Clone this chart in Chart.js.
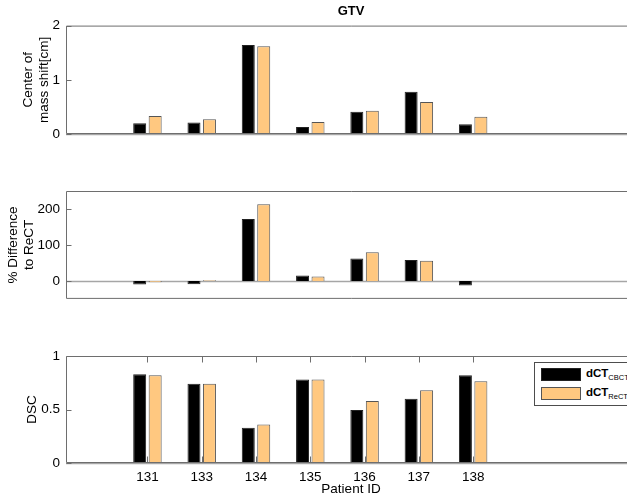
<!DOCTYPE html>
<html>
<head>
<meta charset="utf-8">
<script src="https://cdn.jsdelivr.net/npm/chart.js@4.4.1/dist/chart.umd.min.js"></script>
<style>
  body { margin: 0; background: #fff; }
  #wrap { position: relative; width: 627px; height: 497px; overflow: hidden; background: #fff; }
  canvas { position: absolute; left: 0; }
  #legend {
    position: absolute; left: 534px; top: 362px; width: 110px; height: 42px;
    border: 1px solid #4d4d4d; background: #fff; font-family: "Liberation Sans", Arial, sans-serif;
  }
  .item { position: absolute; left: 6px; height: 14px; }
  .swatch { position: absolute; left: 0; top: 0; width: 40px; height: 13px; border: 1px solid #555; box-sizing: border-box; }
  .lbl { position: absolute; left: 45px; top: -1px; font-size: 11.5px; font-weight: bold; white-space: nowrap; color: #000; }
  .lbl sub { font-size: 7.5px; font-weight: normal; vertical-align: -3px; }
</style>
</head>
<body>
<div id="wrap">
  <canvas id="shiftChart" width="636" height="150" style="top:0px"></canvas>
  <canvas id="diffChart" width="636" height="143" style="top:170px"></canvas>
  <canvas id="dscChart" width="636" height="162" style="top:335px"></canvas>
  <div id="legend"></div>
</div>
<script>
// --- Data ---
const patientIds = ['131', '133', '134', '135', '136', '137', '138'];
const xPositions = [1, 2, 3, 4, 5, 6, 7];

const seriesNames = ['dCT', 'dCT'];
const seriesSubs = ['CBCT', 'ReCT'];
const seriesColors = ['#000000', '#FFC880'];
const seriesBorders = ['#222222', '#555555'];

const shiftCBCT = [0.20, 0.21, 1.64, 0.13, 0.41, 0.78, 0.18];
const shiftReCT = [0.33, 0.27, 1.62, 0.22, 0.43, 0.59, 0.32];
const shiftTicks = [0, 1, 2];

const diffCBCT = [-10, -9, 172, 15, 62, 58, -13];
const diffReCT = [-4, 2, 213, 12, 80, 56, 0];
const diffTicks = [0, 100, 200];

const dscCBCT = [0.83, 0.74, 0.33, 0.78, 0.495, 0.60, 0.82];
const dscReCT = [0.82, 0.74, 0.36, 0.78, 0.58, 0.68, 0.765];
const dscTicks = [0, 0.5, 1];

const FONT = '"Liberation Sans", Arial, sans-serif';
const frameColor = '#6e6e6e';

// frame, inward ticks and bar baseline like the original figure
const framePlugin = {
    id: 'frame',
    beforeDatasetsDraw(chart) {
        const { ctx, chartArea: a, scales: { y } } = chart;
        const y0 = Math.round(y.getPixelForValue(0)) + 0.5;
        ctx.save();
        ctx.strokeStyle = '#a6a6a6';
        ctx.lineWidth = 1.5;
        ctx.beginPath();
        ctx.moveTo(a.left, y0);
        ctx.lineTo(a.right, y0);
        ctx.stroke();
        ctx.restore();
    },
    afterDatasetsDraw(chart, args, opts) {
        const { ctx, chartArea: a, scales: { x, y } } = chart;
        const l = a.left + 0.5, t = a.top + 0.5, b = a.bottom - 0.5;
        ctx.save();
        ctx.strokeStyle = frameColor;
        ctx.lineWidth = 1;
        ctx.beginPath();
        ctx.moveTo(a.right, t); ctx.lineTo(l, t); ctx.lineTo(l, b); ctx.lineTo(a.right, b);
        y.ticks.forEach(tk => {
            const py = Math.round(y.getPixelForValue(tk.value)) + 0.5;
            ctx.moveTo(l, py); ctx.lineTo(l + 5, py);
        });
        if (opts.xTicks) {
            x.ticks.forEach(tk => {
                const px = Math.round(x.getPixelForValue(tk.value)) + 0.5;
                ctx.moveTo(px, t); ctx.lineTo(px, t + 6);
                ctx.moveTo(px, b); ctx.lineTo(px, b - 6);
            });
        }
        ctx.stroke();
        ctx.restore();
    }
};

const makeDatasets = (a, b) => [a, b].map((vals, i) => ({
    label: seriesNames[i] + seriesSubs[i],
    data: xPositions.map((x, j) => ({ x, y: vals[j] })),
    backgroundColor: seriesColors[i],
    borderColor: seriesBorders[i],
    borderWidth: 1,
    categoryPercentage: 0.57,
    barPercentage: 0.84
}));

const makeChart = (id, cfg) => new Chart(document.getElementById(id), {
    type: 'bar',
    data: { datasets: makeDatasets(cfg.a, cfg.b) },
    plugins: [framePlugin],
    options: {
        responsive: false,
        animation: false,
        layout: { padding: { top: cfg.padTop, bottom: cfg.padBottom, left: 0, right: 0 } },
        plugins: {
            legend: { display: false },
            tooltip: { enabled: false },
            title: cfg.title ? {
                display: true, text: cfg.title, fullSize: false, color: '#000',
                font: { family: FONT, size: 13, weight: 'bold' },
                padding: { top: 4, bottom: 6 }
            } : { display: false },
            frame: { xTicks: cfg.showX }
        },
        scales: {
            x: {
                type: 'linear', min: -0.5, max: 10, offset: false,
                display: cfg.showX,
                afterBuildTicks: s => { s.ticks = xPositions.map(v => ({ value: v })); },
                afterFit: s => { if (cfg.showX) s.height = 34; },
                grid: { display: false, drawTicks: false, offset: false },
                border: { display: false },
                ticks: {
                    callback: v => patientIds[v - 1], padding: 6, maxRotation: 0, autoSkip: false,
                    color: '#000', font: { family: FONT, size: 13.5 }
                },
                title: {
                    display: true, text: 'Patient ID', color: '#000',
                    font: { family: FONT, size: 13.5 }, padding: { top: 0, bottom: 0 }
                }
            },
            y: {
                min: cfg.min, max: cfg.max,
                afterBuildTicks: s => { s.ticks = cfg.ticks.map(v => ({ value: v })); },
                afterFit: s => { s.width = 66; },
                grid: { display: false, drawTicks: false },
                border: { display: false },
                ticks: { padding: 6, color: '#000', font: { family: FONT, size: 13.5 }, callback: v => String(v) },
                title: {
                    display: true, text: cfg.yTitle, color: '#000',
                    font: { family: FONT, size: 13.5 }, padding: { top: cfg.yTitlePad }
                }
            }
        }
    }
});

makeChart('shiftChart', {
    a: shiftCBCT, b: shiftReCT, min: 0, max: 2, ticks: shiftTicks,
    yTitle: ['Center of', 'mass shift[cm]'], yTitlePad: 20,
    title: 'GTV', showX: false, padTop: 0, padBottom: 16
});

makeChart('diffChart', {
    a: diffCBCT, b: diffReCT, min: -50, max: 250, ticks: diffTicks,
    yTitle: ['% Difference', 'to ReCT'], yTitlePad: 5,
    showX: false, padTop: 21, padBottom: 9
});

makeChart('dscChart', {
    a: dscCBCT, b: dscReCT, min: 0, max: 1, ticks: dscTicks,
    yTitle: 'DSC', yTitlePad: 24,
    showX: true, padTop: 21, padBottom: 0
});

// legend with subscripts
const legend = document.getElementById('legend');
seriesNames.forEach((name, i) => {
    const item = document.createElement('div');
    item.className = 'item';
    item.style.top = (5 + i * 19) + 'px';
    item.innerHTML = `<div class="swatch" style="background:${seriesColors[i]};border-color:${seriesBorders[i]}"></div>` +
        `<div class="lbl">${name}<sub>${seriesSubs[i]}</sub></div>`;
    legend.appendChild(item);
});
</script>
</body>
</html>
